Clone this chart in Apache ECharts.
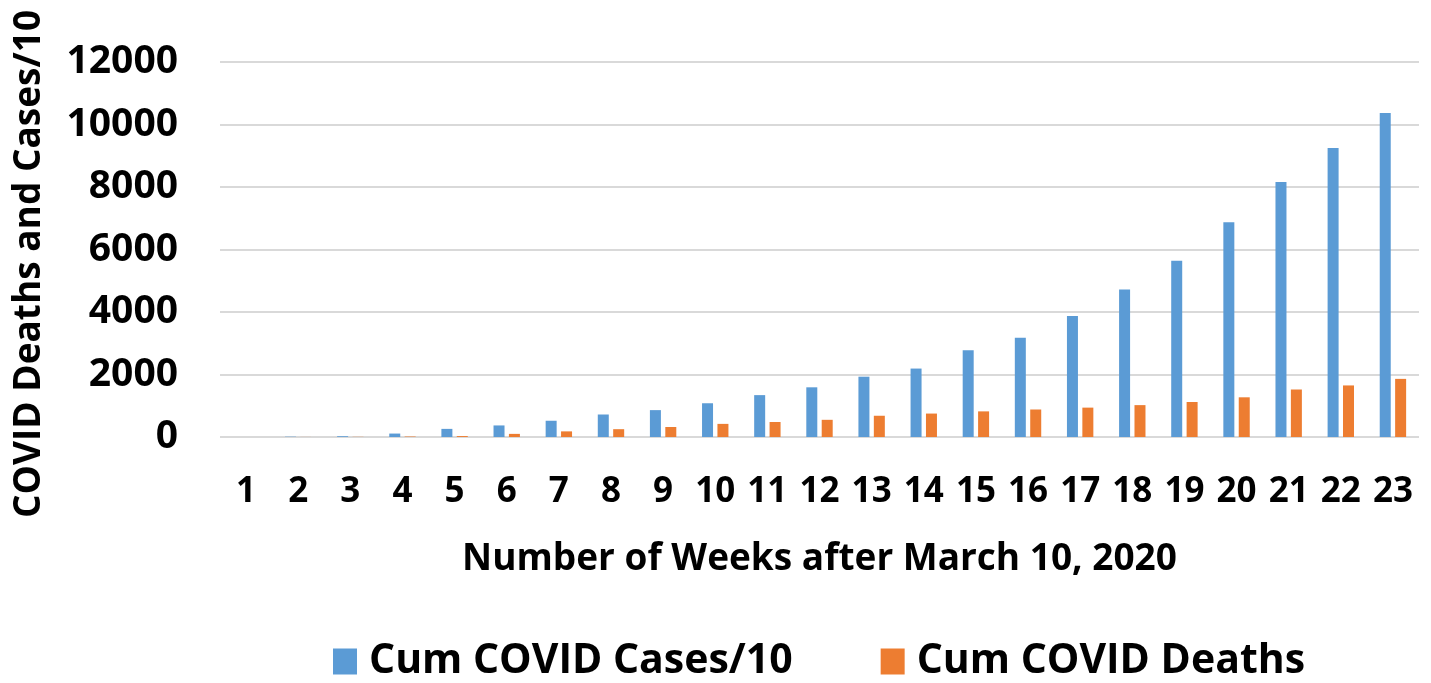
<!DOCTYPE html>
<html><head><meta charset="utf-8">
<script src="https://cdn.jsdelivr.net/npm/echarts@6/dist/echarts.min.js"></script>
<style>html,body{margin:0;padding:0;background:#fff}#c{width:1431px;height:683px}</style>
</head><body><div id="c"></div>
<script>
var weeks = ['1','2','3','4','5','6','7','8','9','10','11','12','13','14','15','16','17','18','19','20','21','22','23'];
var casesDiv10 = [0, 10, 25, 110, 260, 370, 520, 720, 860, 1080, 1340, 1590, 1930, 2190, 2780, 3180, 3870, 4720, 5640, 6870, 8160, 9250, 10370];
var deaths = [0, 2, 5, 15, 30, 100, 180, 250, 320, 420, 480, 550, 680, 750, 820, 880, 940, 1020, 1120, 1270, 1520, 1650, 1860];
var seriesNames = ['Cum COVID Cases/10', 'Cum COVID Deaths'];
var xTitle = 'Number of Weeks after March 10, 2020';
var yTitle = 'COVID Deaths and Cases/10';

var FONT = '"Open Sans"';
var chart = echarts.init(document.getElementById('c'), null, {renderer: 'canvas'});
chart.setOption({
  animation: false,
  backgroundColor: '#ffffff',
  color: ['#5b9bd5', '#ed7d31'],
  grid: {left: 220, right: 12, top: 62, bottom: 246},
  legend: {
    top: 641, left: 333, padding: 0,
    itemWidth: 24, itemHeight: 26, itemGap: 88,
    icon: 'rect',
    textStyle: {fontFamily: FONT, fontWeight: 'bold', fontSize: 41, color: '#000', padding: [0, 0, 0, 7]},
    data: seriesNames
  },
  xAxis: {
    type: 'category', data: weeks,
    axisLine: {show: false}, axisTick: {show: false},
    axisLabel: {fontFamily: FONT, fontWeight: 'bold', fontSize: 35, color: '#000', margin: 38, interval: 0},
    name: xTitle, nameLocation: 'middle', nameGap: 104,
    nameTextStyle: {fontFamily: FONT, fontWeight: 'bold', fontSize: 37, color: '#000'}
  },
  yAxis: {
    type: 'value', min: 0, max: 12000, interval: 2000,
    axisLine: {show: false}, axisTick: {show: false},
    axisLabel: {fontFamily: FONT, fontWeight: 'bold', fontSize: 39, color: '#000', margin: 42,
      formatter: function (v) { return String(v); }},
    splitLine: {lineStyle: {color: '#d9d9d9', width: 2}}
  },
  graphic: [{
    type: 'text', x: 29, y: 264, rotation: Math.PI / 2,
    style: {text: yTitle, fontFamily: FONT, fontWeight: 'bold', fontSize: 37, fill: '#000', align: 'center', verticalAlign: 'middle'}
  }],
  series: [
    {name: seriesNames[0], type: 'bar', data: casesDiv10, barWidth: 11, barGap: '40%'},
    {name: seriesNames[1], type: 'bar', data: deaths, barWidth: 11, barGap: '40%'}
  ]
});
</script></body></html>
